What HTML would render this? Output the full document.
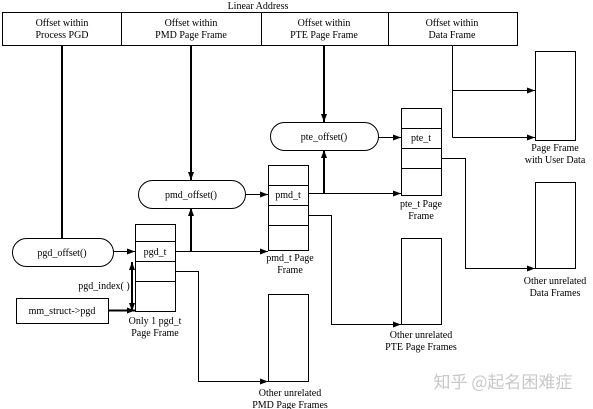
<!DOCTYPE html>
<html><head><style>body{margin:0;background:#fff}svg{display:block}</style></head><body>
<svg width="593" height="409" xmlns="http://www.w3.org/2000/svg" font-family="Liberation Serif, serif" font-size="10" text-anchor="middle">
<defs><marker id="a" markerWidth="8" markerHeight="6" refX="8" refY="3" orient="auto" markerUnits="userSpaceOnUse"><path d="M0,0L8,3L0,6z"/></marker></defs>
<g fill="none" stroke="#000" stroke-width="1">
<rect x="2.5" y="12.5" width="515" height="33"/>
<line x1="121.5" y1="12" x2="121.5" y2="45"/><line x1="261.5" y1="12" x2="261.5" y2="45"/><line x1="388.5" y1="12" x2="388.5" y2="45"/>
<rect x="535.5" y="51.5" width="40" height="89"/>
<rect x="535.5" y="182.5" width="40" height="86"/>
<rect x="401.5" y="108.5" width="40" height="87"/><line x1="401" y1="128.5" x2="441" y2="128.5"/><line x1="401" y1="148.5" x2="441" y2="148.5"/><line x1="401" y1="168.5" x2="441" y2="168.5"/>
<rect x="268.5" y="165.5" width="40" height="85"/><line x1="268" y1="185.5" x2="308" y2="185.5"/><line x1="268" y1="205.5" x2="308" y2="205.5"/><line x1="268" y1="225.5" x2="308" y2="225.5"/>
<rect x="135.5" y="224.5" width="40" height="87"/><line x1="135" y1="241.5" x2="175" y2="241.5"/><line x1="135" y1="261.5" x2="175" y2="261.5"/><line x1="135" y1="281.5" x2="175" y2="281.5"/>
<rect x="401.5" y="238.5" width="40" height="86"/>
<rect x="268.5" y="294.5" width="40" height="87"/>
<rect x="16.5" y="298.5" width="92" height="25"/>
<rect x="12.5" y="238.5" width="101" height="28" rx="14"/>
<rect x="138.5" y="180.5" width="107" height="28" rx="14"/>
<rect x="270.5" y="122.5" width="108" height="28" rx="14"/>
<path d="M452.5 45V137.5M452.5 90.5H535" marker-end="url(#a)"/>
<path d="M452.5 137.5H535" marker-end="url(#a)"/>
<path d="M441 158.5H465.5V268.5H535" marker-end="url(#a)"/>
<path d="M308 215.5H331.5V324.5H401" marker-end="url(#a)"/>
<path d="M175 271.5H198.5V381.5H268" marker-end="url(#a)"/>
<path d="M378 137.5H401" marker-end="url(#a)"/>
<path d="M245 194.5H268" marker-end="url(#a)"/>
<path d="M308 193.5H401" marker-end="url(#a)"/>
<path d="M175 251.5H268" marker-end="url(#a)"/>
<path d="M113 251.5H135" marker-end="url(#a)"/>
</g>
<g fill="none" stroke="#000" stroke-width="2">
<path d="M62 45V238"/>
<path d="M191 45V180" marker-end="url(#a)"/>
<path d="M324 45V122" marker-end="url(#a)"/>
<path d="M324 193V150" marker-end="url(#a)"/>
<path d="M191 251V208" marker-end="url(#a)"/>
<path d="M108 310.5H135" marker-end="url(#a)"/>
<path d="M132 285V262" marker-end="url(#a)"/>
<path d="M132 285V311" marker-end="url(#a)"/>
</g>
<text x="258" y="9">Linear Address</text>
<text x="62" y="26">Offset within</text><text x="62" y="38">Process PGD</text>
<text x="191" y="26">Offset within</text><text x="191" y="38">PMD Page Frame</text>
<text x="324" y="26">Offset within</text><text x="324" y="38">PTE Page Frame</text>
<text x="452" y="26">Offset within</text><text x="452" y="38">Data Frame</text>
<text x="555" y="151">Page Frame</text><text x="555" y="163">with User Data</text>
<text x="555" y="284">Other unrelated</text><text x="555" y="296">Data Frames</text>
<text x="421" y="141">pte_t</text>
<text x="421" y="207">pte_t Page</text><text x="421" y="219">Frame</text>
<text x="288" y="198">pmd_t</text>
<text x="290" y="261">pmd_t Page</text><text x="290" y="273">Frame</text>
<text x="155" y="255">pgd_t</text>
<text x="155" y="324">Only 1 pgd_t</text><text x="155" y="336">Page Frame</text>
<text x="421" y="338">Other unrelated</text><text x="421" y="350">PTE Page Frames</text>
<text x="290" y="396">Other unrelated</text><text x="290" y="408">PMD Page Frames</text>
<text x="62" y="256">pgd_offset()</text>
<text x="191" y="198">pmd_offset()</text>
<text x="324" y="140">pte_offset()</text>
<text x="62" y="314">mm_struct-&gt;pgd</text>
<text x="104" y="289">pgd_index( )</text>
<text x="503" y="388" font-family="Noto Sans CJK SC, sans-serif" font-size="17" fill="#c8c8c8">知乎 @起名困难症</text>
</svg>
</body></html>
